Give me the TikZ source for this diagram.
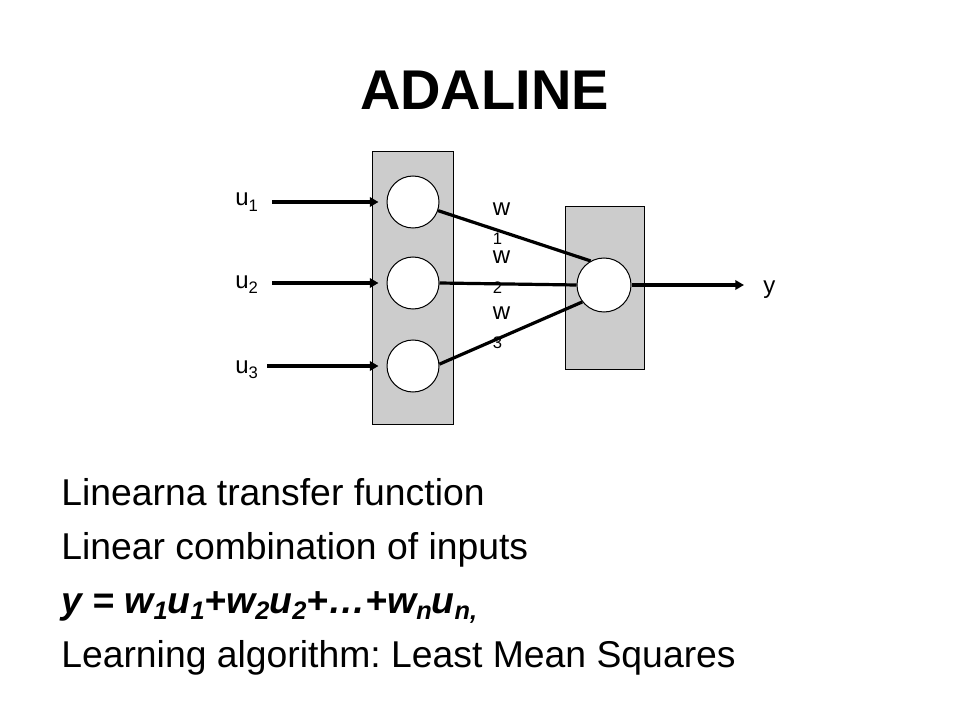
\documentclass[tikz,border=0pt]{standalone}
\usepackage{fontspec}
\setmainfont{Liberation Sans}
\usepackage{tikz}
\usetikzlibrary{arrows.meta,positioning}
\definecolor{layergray}{HTML}{CCCCCC}
\frenchspacing
\tikzset{
	layer/.style={draw,line width=0.75pt,fill=layergray,rectangle,inner sep=0pt},
	neuron/.style={draw,line width=0.75pt,fill=white,circle,inner sep=0pt,minimum size=39pt},
	wire/.style={line width=2.4pt},
	feed/.style={line width=2.4pt,-{Triangle[length=6.5pt,width=7pt]}},
	lab/.style={font=\fontsize{18}{20}\selectfont,inner sep=0pt,anchor=base west},
	wlab/.style={font=\fontsize{18}{20}\selectfont,inner sep=0pt,anchor=base},
	wsub/.style={font=\fontsize{12.5}{14}\selectfont,inner sep=0pt,anchor=base},
	line/.style={font=\fontsize{28}{34}\selectfont,inner sep=0pt,anchor=base west}
}
\newcommand{\lsub}[1]{\raisebox{-4pt}{\fontsize{12.5}{14}\selectfont #1}}
\newcommand{\esub}[1]{\raisebox{-5pt}{\fontsize{19}{22}\selectfont #1}}

\begin{document}
\begin{tikzpicture}[x=0.75pt,y=-0.75pt]
		\useasboundingbox (0,0) rectangle (960,720);
		\node[font=\fontsize{42}{50}\selectfont\bfseries,inner sep=0pt,anchor=base] (title) at (484.5,110) {ADALINE};
		
		\node[layer,minimum width=60.75pt,minimum height=204pt] (inl) at (412.5,288) {}; % input layer
		\node[layer,minimum width=59.25pt,minimum height=121.5pt] (outl) at (604.5,288) {}; % output layer
		
		\node[neuron] (c1) at (413,202) {};
		\node[neuron] (c2) at (413,283) {};
		\node[neuron] (c3) at (413,366) {};
		\node[neuron,minimum size=40.5pt] (out) at (604,285) {};
		
		\node[lab] (u1) at (235,206) {u\lsub{1}};
		\node[lab] (u2) at (235,288) {u\lsub{2}};
		\node[lab] (u3) at (235,373) {u\lsub{3}};
		\coordinate (in1) at (272,202);
		\coordinate (in2) at (272,283);
		\coordinate (in3) at (267,366);
		\foreach \i in {1,2,3}
			\draw[feed,shorten >=6pt] (in\i) -- (c\i.west);
		
		\draw[wire] (c1.-19) -- (out.119);
		\draw[wire] (c2.east) -- (out.west);
		\draw[wire] (c3.4) -- (out.-142);
		
		\foreach \i/\yb in {1/216,2/264,3/320}{
			\node[wlab] (w\i) at (501.5,\yb) {w};
			\node[wsub] (w\i s) at (497.5,\yb+29) {\i}; % index under w
		}
		
		\node[lab] (y) at (763,293) {y};
		\coordinate (yend) at (744,285);
		\draw[feed] (out.east) -- (yend);
		
		\node[line] (l1) at (61,505) {Linearna transfer function};
		\node[line] (l2) at (61,559) {Linear combination of inputs};
		\node[line,font=\fontsize{28}{34}\selectfont\bfseries\itshape] (l3) at (61,613) {y = w\esub{1}u\esub{1}+w\esub{2}u\esub{2}+\dots+w\esub{n}u\esub{n,}};
		\node[line] (l4) at (61,667) {Learning algorithm: Least Mean Squares};
	\end{tikzpicture}
\end{document}
